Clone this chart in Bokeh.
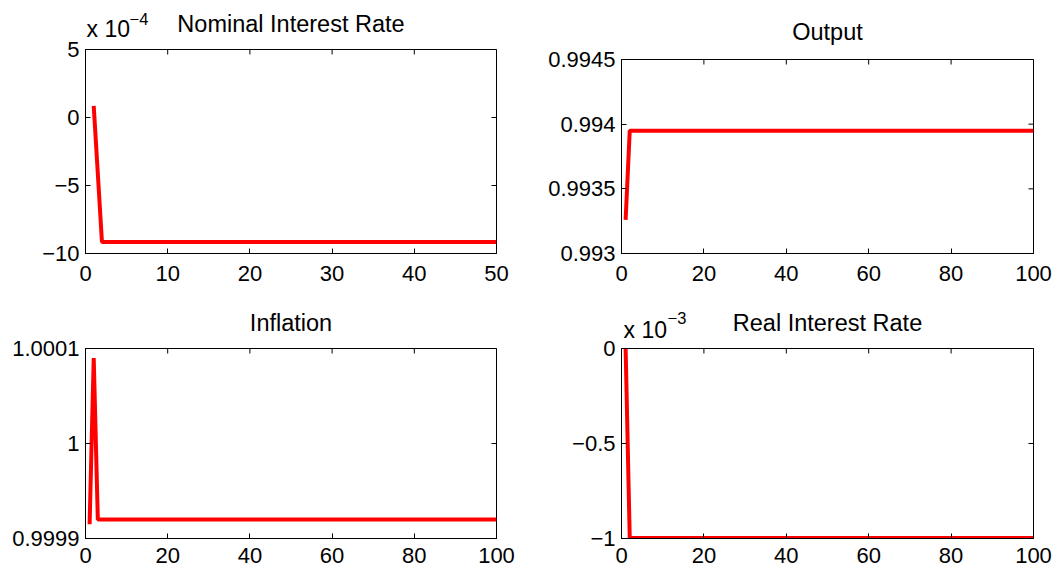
import math
from bokeh.plotting import figure
from bokeh.models import Range1d, FixedTicker, CustomJSTickFormatter, Title
from bokeh.layouts import column, row
from bokeh.embed import file_html
from bokeh.resources import INLINE

FONT = "Liberation Sans"

# ---- data ----
nominal_t = [1, 2, 50]
nominal_v = [0.85e-4, -9.15e-4, -9.15e-4]

output_t = [1, 2, 100]
output_v = [0.99326, 0.99395, 0.99395]

inflation_t = [1, 2, 3, 100]
inflation_v = [0.999915, 1.00009, 0.99992, 0.99992]

real_t = [1, 2, 100]
real_v = [0.0, -0.998e-3, -0.998e-3]

titles = ["Nominal Interest Rate", "Output", "Inflation", "Real Interest Rate"]

nominal_xticks = [0, 10, 20, 30, 40, 50]
xticks = [0, 20, 40, 60, 80, 100]
nominal_yticks = [-10e-4, -5e-4, 0.0, 5e-4]
output_yticks = [0.993, 0.9935, 0.994, 0.9945]
inflation_yticks = [0.9999, 1.0, 1.0001]
real_yticks = [-1e-3, -0.5e-3, 0.0]

JS_FMT = """
const v = Math.round(tick * scale * 1e6) / 1e6;
let s = (v === 0) ? "0" : String(v);
return s.replace("-", "\u2212");
"""


def style_axis(ax, ticks, scale, standoff):
    ax.ticker = FixedTicker(ticks=ticks)
    ax.formatter = CustomJSTickFormatter(code=JS_FMT, args={"scale": scale})
    ax.axis_line_color = "black"
    ax.axis_line_width = 1
    ax.major_tick_line_color = "black"
    ax.major_tick_in = 5
    ax.major_tick_out = 0
    ax.minor_tick_line_color = None
    ax.major_label_text_font = FONT
    ax.major_label_text_color = "black"
    ax.major_label_text_font_size = "22px"
    ax.major_label_standoff = standoff


def add_title(p, text, size, align, offset, standoff):
    t = Title(text=text, align=align, offset=offset, standoff=standoff,
              text_font=FONT, text_font_size=size, text_font_style="normal",
              text_color="black")
    p.add_layout(t, "above")


def make_panel(title, t, v, x_end, xt, y_lo, y_hi, yt, scale,
               width, height, left, right, top, bottom,
               main_standoff, x_standoff, exponent=None):
    p = figure(width=width, height=height,
               x_range=Range1d(0, x_end), y_range=Range1d(y_lo, y_hi),
               output_backend="svg", toolbar_location=None, tools="",
               min_border_left=left, min_border_right=right,
               min_border_top=top, min_border_bottom=bottom)
    p.line(t, v, line_color="#ff0000", line_width=4)
    p.grid.visible = False
    p.outline_line_color = "black"
    p.outline_line_width = 1
    p.background_fill_color = "white"
    p.border_fill_color = "white"

    style_axis(p.xaxis[0], xt, 1, x_standoff)
    style_axis(p.yaxis[0], yt, scale, 6)

    # inward ticks on the top and right edges (half of each dash is clipped by the frame)
    p.scatter(x=xt, y=[y_hi] * len(xt), marker="dash", angle=math.pi / 2,
              size=10, line_color="black", line_width=1)
    p.scatter(x=[x_end] * len(yt), y=yt, marker="dash",
              size=10, line_color="black", line_width=1)

    if exponent is not None:
        text, x_off, s1, sup_offset, s2 = exponent
        add_title(p, "x 10", "23px", "left", x_off, s1)
        add_title(p, text, "16.5px", "left", sup_offset, s2)

    p.title.text = title
    p.title.align = "center"
    p.title.text_font = FONT
    p.title.text_font_size = "23.5px"
    p.title.text_font_style = "normal"
    p.title.text_color = "black"
    p.title.standoff = main_standoff
    return p


p1 = make_panel(titles[0], nominal_t, nominal_v, 50, nominal_xticks,
                -10e-4, 5e-4, nominal_yticks, 1e4,
                520, 290, 85, 24, 49, 37, -58, 12,
                exponent=("\u22124", 1, 14.2, 44, -34.8))
p2 = make_panel(titles[1], output_t, output_v, 100, xticks,
                0.993, 0.9945, output_yticks, 1,
                537, 290, 101, 23, 59, 37, 30, 12)
p3 = make_panel(titles[2], inflation_t, inflation_v, 100, xticks,
                0.9999, 1.0001, inflation_yticks, 1,
                520, 281, 85, 24, 58, 33, 25.8, 9)
p4 = make_panel(titles[3], real_t, real_v, 100, xticks,
                -1e-3, 0.0, real_yticks, 1e3,
                537, 281, 101, 24, 58, 33, -50, 9,
                exponent=("\u22123", 2, 10.2, 46, -26.8))

layout = row(column(p1, p3), column(p2, p4))
open("out.html", "w").write(file_html(layout, INLINE))
